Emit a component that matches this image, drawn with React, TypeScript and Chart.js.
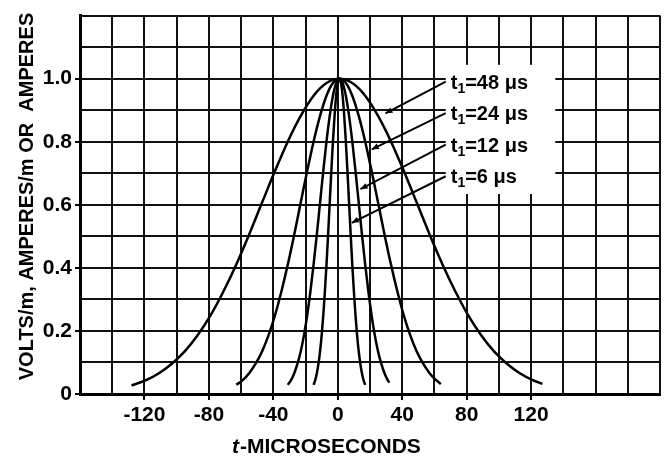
import { useEffect, useRef } from "react";
import { Chart, registerables } from "chart.js";

Chart.register(...registerables);

// ---- data (t in microseconds, value normalised) ----
const T48 = [-128, -119, -111, -103, -95, -87, -79, -71, -63, -55, -47, -39, -31, -23, -15, -7, 1, 9, 17, 25, 33, 41, 49, 57, 65, 73, 81, 89, 97, 105, 113, 121, 127];
const V48 = [0.027, 0.044, 0.066, 0.096, 0.135, 0.186, 0.249, 0.325, 0.411, 0.506, 0.607, 0.707, 0.801, 0.882, 0.946, 0.986, 1.0, 0.986, 0.946, 0.882, 0.801, 0.707, 0.607, 0.506, 0.411, 0.325, 0.249, 0.186, 0.135, 0.096, 0.066, 0.044, 0.032];

const T24 = [-63, -59, -55, -51, -47, -43, -39, -35, -31, -27, -23, -19, -15, -11, -7, -3, 1, 5, 9, 13, 17, 21, 25, 29, 33, 37, 41, 45, 49, 53, 57, 61, 64];
const V24 = [0.029, 0.044, 0.066, 0.096, 0.135, 0.186, 0.249, 0.325, 0.411, 0.506, 0.607, 0.707, 0.801, 0.882, 0.946, 0.986, 1.0, 0.986, 0.946, 0.882, 0.801, 0.707, 0.607, 0.506, 0.411, 0.325, 0.249, 0.186, 0.135, 0.096, 0.066, 0.044, 0.032];

const T12 = [-31, -29, -27, -25, -23, -21, -19, -17, -15, -13, -11, -9, -7, -5, -3, -1, 1, 3, 5, 7, 9, 11, 13, 15, 17, 19, 21, 23, 25, 27, 29, 31, 32];
const V12 = [0.029, 0.044, 0.066, 0.096, 0.135, 0.186, 0.249, 0.325, 0.411, 0.506, 0.607, 0.707, 0.801, 0.882, 0.946, 0.986, 1.0, 0.986, 0.946, 0.882, 0.801, 0.707, 0.607, 0.506, 0.411, 0.325, 0.249, 0.186, 0.135, 0.096, 0.066, 0.044, 0.036];

const T6 = [-15, -14, -13, -12, -11, -10, -9, -8, -7, -6, -5, -4, -3, -2, -1, 0, 1, 2, 3, 4, 5, 6, 7, 8, 9, 10, 11, 12, 13, 14, 15, 16, 17];
const V6 = [0.029, 0.044, 0.066, 0.096, 0.135, 0.186, 0.249, 0.325, 0.411, 0.506, 0.607, 0.707, 0.801, 0.882, 0.946, 0.986, 1.0, 0.986, 0.946, 0.882, 0.801, 0.707, 0.607, 0.506, 0.411, 0.325, 0.249, 0.186, 0.135, 0.096, 0.066, 0.044, 0.029];

const X_TICK_LABELS = [-120, -80, -40, 0, 40, 80, 120];
const Y_TICK_LABELS = [0, 0.2, 0.4, 0.6, 0.8, 1.0];

const PULSE_NAMES = ["48", "24", "12", "6"];
// label rows (gridline value) and arrow tips (t, value)
const LABEL_ROWS = [1.0, 0.9, 0.8, 0.7];
const ARROW_TIP_T = [29.6, 21.1, 14.1, 8.7];
const ARROW_TIP_V = [0.89, 0.776, 0.65, 0.543];

const X_TITLE = "-MICROSECONDS";
const Y_TITLE = "VOLTS/m, AMPERES/m OR  AMPERES";

const FONT = "'Liberation Sans', Arial, Helvetica, sans-serif";

const toPts = (ts: number[], vs: number[]) => ts.map((t, i) => ({ x: t, y: vs[i] }));

const isLabelled = (list: number[], v: number) => list.some((l) => Math.abs(l - v) < 1e-6);

const overlayPlugin = {
  id: "overlay",
  afterDatasetsDraw(chart: any) {
    const { ctx } = chart;
    const xs = chart.scales.x;
    const ys = chart.scales.y;
    ctx.save();
    // white panel behind the labels
    const bx0 = xs.getPixelForValue(67);
    const bx1 = xs.getPixelForValue(135);
    const by0 = ys.getPixelForValue(1.044);
    const by1 = ys.getPixelForValue(0.634);
    ctx.fillStyle = "#fff";
    ctx.fillRect(bx0, by0, bx1 - bx0, by1 - by0);

    ctx.strokeStyle = "#000";
    ctx.fillStyle = "#000";
    ctx.lineWidth = 2;
    PULSE_NAMES.forEach((name, i) => {
      const rowY = ys.getPixelForValue(LABEL_ROWS[i]);
      const sx = bx0;
      const sy = rowY + 3;
      const tx = xs.getPixelForValue(ARROW_TIP_T[i]);
      const ty = ys.getPixelForValue(ARROW_TIP_V[i]);
      ctx.beginPath();
      ctx.moveTo(sx, sy);
      ctx.lineTo(tx, ty);
      ctx.stroke();
      // arrow head
      const ang = Math.atan2(ty - sy, tx - sx);
      const L = 7, W = 3;
      ctx.beginPath();
      ctx.moveTo(tx, ty);
      ctx.lineTo(tx - L * Math.cos(ang) + W * Math.sin(ang), ty - L * Math.sin(ang) - W * Math.cos(ang));
      ctx.lineTo(tx - L * Math.cos(ang) - W * Math.sin(ang), ty - L * Math.sin(ang) + W * Math.cos(ang));
      ctx.closePath();
      ctx.fill();

      // label text  t1=NN μs
      const base = rowY + 10;
      let x = sx + 5;
      ctx.textAlign = "left";
      ctx.textBaseline = "alphabetic";
      ctx.font = `bold 20px ${FONT}`;
      ctx.fillText("t", x, base);
      x += ctx.measureText("t").width;
      ctx.font = `bold 14px ${FONT}`;
      ctx.fillText("1", x, base + 4);
      x += ctx.measureText("1").width;
      ctx.font = `bold 20px ${FONT}`;
      ctx.fillText(`=${name} \u03bcs`, x, base);
    });
    ctx.restore();
  },
  afterDraw(chart: any) {
    const { ctx } = chart;
    ctx.save();
    ctx.fillStyle = "#000";
    // y title
    ctx.translate(33, 196.5);
    ctx.rotate(-Math.PI / 2);
    ctx.textAlign = "center";
    ctx.textBaseline = "alphabetic";
    ctx.font = `bold 20px ${FONT}`;
    ctx.fillText(Y_TITLE, 0, 0);
    ctx.restore();

    ctx.save();
    ctx.fillStyle = "#000";
    ctx.textAlign = "left";
    ctx.textBaseline = "alphabetic";
    let x = 232;
    ctx.font = `italic bold 21px ${FONT}`;
    ctx.fillText("t", x, 453);
    x += ctx.measureText("t").width + 1;
    ctx.font = `bold 21px ${FONT}`;
    ctx.fillText(X_TITLE, x, 453);
    ctx.restore();
  },
};

export default function App() {
  const ref = useRef<HTMLCanvasElement | null>(null);

  useEffect(() => {
    if (!ref.current) return;
    const lineDs = (ts: number[], vs: number[], label: string) => ({
      label,
      data: toPts(ts, vs),
      borderColor: "#000",
      borderWidth: 2.5,
      pointRadius: 0,
      fill: false,
      cubicInterpolationMode: "monotone" as const,
    });
    const chart = new Chart(ref.current, {
      type: "line",
      data: {
        datasets: [
          lineDs(T48, V48, "t1=48 μs"),
          lineDs(T24, V24, "t1=24 μs"),
          lineDs(T12, V12, "t1=12 μs"),
          lineDs(T6, V6, "t1=6 μs"),
        ],
      },
      options: {
        animation: false,
        responsive: false,
        devicePixelRatio: 1,
        layout: { padding: { top: 14, right: 5, left: 0, bottom: 0 } },
        plugins: { legend: { display: false }, tooltip: { enabled: false } },
        scales: {
          x: {
            type: "linear",
            min: -160,
            max: 200,
            afterFit: (s: any) => {
              s.height = 62;
            },
            ticks: {
              stepSize: 20,
              autoSkip: false,
              maxRotation: 0,
              padding: 3,
              color: "#000",
              font: { family: FONT, size: 21, weight: "bold" },
              callback: (v: any) => (isLabelled(X_TICK_LABELS, Number(v)) ? String(v) : ""),
            },
            grid: {
              color: "#111",
              lineWidth: 2,
              tickLength: 6,
              tickColor: (c: any) => (c.tick && isLabelled(X_TICK_LABELS, c.tick.value) ? "#000" : "rgba(0,0,0,0)"),
            },
            border: { display: true, color: "#000", width: 3 },
          },
          y: {
            type: "linear",
            min: 0,
            max: 1.2,
            afterFit: (s: any) => {
              s.width = 80;
            },
            ticks: {
              stepSize: 0.1,
              autoSkip: false,
              padding: 3,
              color: "#000",
              font: { family: FONT, size: 21, weight: "bold" },
              callback: (v: any) => {
                const n = Number(v);
                if (!isLabelled(Y_TICK_LABELS, n)) return "";
                return n === 0 ? "0" : n.toFixed(1);
              },
            },
            grid: {
              color: "#111",
              lineWidth: 2,
              tickLength: 5,
              tickColor: (c: any) => (c.tick && isLabelled(Y_TICK_LABELS, c.tick.value) ? "#000" : "rgba(0,0,0,0)"),
            },
            border: { display: true, color: "#000", width: 3 },
          },
        },
      },
      plugins: [overlayPlugin],
    });
    return () => chart.destroy();
  }, []);

  return (
    <div style={{ position: "absolute", left: 0, top: 0, width: 665, height: 456, background: "#fff" }}>
      <canvas ref={ref} width={665} height={456} style={{ display: "block" }} />
    </div>
  );
}
